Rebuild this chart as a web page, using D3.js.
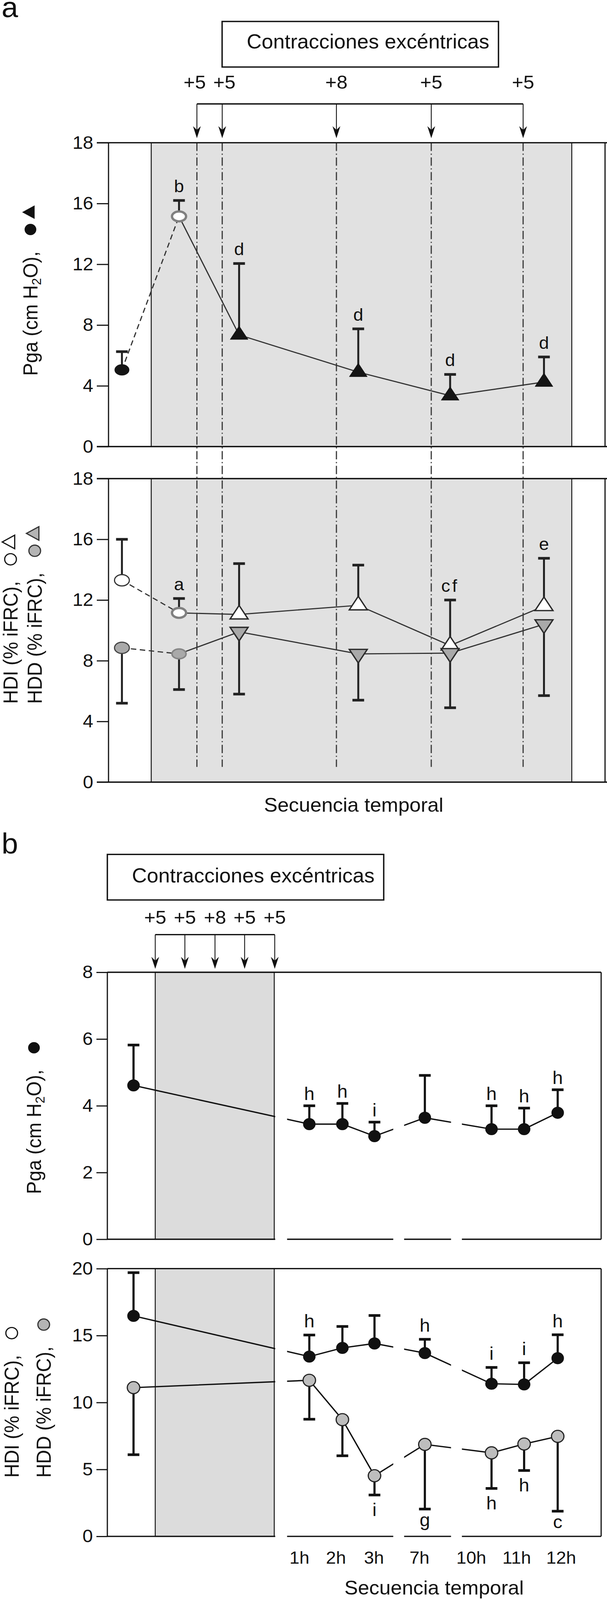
<!DOCTYPE html>
<html lang="es">
<head>
<meta charset="utf-8">
<title>Contracciones excéntricas</title>
<script src="https://cdn.jsdelivr.net/npm/d3@7/dist/d3.min.js"></script>
<style>
html,body{margin:0;padding:0;background:#fff;width:100%;height:100%;overflow:hidden;}
svg{display:block;width:100%;height:100%;}
</style>
</head>
<body>
<svg id="chart" viewBox="0 0 1555 4249" preserveAspectRatio="none"></svg>
<script>
// ================= DATA =================
const contractionBlocks = ["+5", "+5", "+8", "+5", "+5"];
const boxTitle = "Contracciones excéntricas";
const xAxisTitle = "Secuencia temporal";

// ---- Panel a (positions along the temporal sequence, arbitrary units 0-100)
const aSeq = [2.7, 14.2, 26.3, 50.3, 68.8, 87.7];
const aPhase = ["basal", "pre", "post", "post", "post", "post"];
const aBlocksSeq = [17.8, 22.9, 45.9, 65.0, 83.5];
const aExerciseSeq = [8.6, 93.3];
const aTickValues = [0, 4, 8, 12, 16, 20];
const aTickLabels = ["0", "4", "8", "12", "16", "18"];

const aPga = [5.05, 15.15, 7.35, 4.9, 3.35, 4.25];
const aPgaErr = [1.2, 1.05, 4.7, 2.85, 1.4, 1.65];
const aPgaSig = ["", "b", "d", "d", "d", "d"];

const aHDI = [13.3, 11.15, 11.05, 11.65, 9.0, 11.6];
const aHDIErr = [2.7, 0.95, 3.35, 2.65, 3.0, 3.15];
const aHDISig = ["", "a", "", "", "cf", "e"];

const aHDD = [8.85, 8.45, 9.9, 8.45, 8.5, 10.4];
const aHDDErr = [3.65, 2.35, 4.1, 3.05, 3.6, 4.7];

// ---- Panel b
const bSeq = [5.3, 40.9, 47.6, 54.1, 64.3, 77.8, 84.4, 91.2];
const bHourLabels = ["1h", "2h", "3h", "7h", "10h", "11h", "12h"];
const bHourLabelSeq = [38.9, 46.3, 54.0, 63.2, 73.7, 82.9, 91.9];
const bBlocksSeq = [9.7, 15.7, 21.8, 27.8, 33.9];
const bExerciseSeq = [9.7, 33.8];
const bAxisBreaks = [[34.0, 36.4], [57.9, 60.1], [69.6, 71.8]];
const bTopTicks = [0, 2, 4, 6, 8];
const bBotTicks = [0, 5, 10, 15, 20];

const bPga = [4.61, 3.45, 3.45, 3.09, 3.64, 3.30, 3.30, 3.79];
const bPgaErr = [1.21, 0.55, 0.62, 0.42, 1.27, 0.70, 0.63, 0.69];
const bPgaSig = ["", "h", "h", "i", "", "h", "h", "h"];

const bHDI = [16.47, 13.43, 14.08, 14.41, 13.69, 11.40, 11.35, 13.31];
const bHDIErr = [3.23, 1.61, 1.60, 2.09, 1.03, 1.22, 1.62, 1.75];
const bHDISig = ["", "h", "", "", "h", "i", "i", "h"];

const bHDD = [11.11, 11.66, 8.72, 4.53, 6.87, 6.24, 6.90, 7.47];
const bHDDErr = [5.01, 2.91, 2.70, 1.44, 4.83, 2.66, 1.98, 5.59];
const bHDDSig = ["", "", "", "i", "g", "h", "h", "c"];

// ================= DRAWING =================
const FONT = '"Liberation Sans", Arial, Helvetica, sans-serif';
const INK = "#111";
const svg = d3.select("#chart");
svg.append("rect").attr("width", 1555).attr("height", 4249).attr("fill", "#fff");

const xa = d3.scaleLinear().domain([0, 100]).range([278, 1550]);
const yaTop = d3.scaleLinear().domain([0, 20]).range([1186, 379]);
const yaBot = d3.scaleLinear().domain([0, 20]).range([2077, 1271]);
const xb = d3.scaleLinear().domain([0, 100]).range([275, 1540]);
const ybTop = d3.scaleLinear().domain([0, 8]).range([3291, 2582]);
const ybBot = d3.scaleLinear().domain([0, 20]).range([4080, 3369]);

function text(g, x, y, s, size, anchor) {
  return g.append("text").attr("x", x).attr("y", y).attr("font-family", FONT)
    .attr("font-size", size).attr("fill", INK).attr("text-anchor", anchor || "middle").text(s);
}
function hline(g, x1, x2, y, w, c) {
  return g.append("line").attr("x1", x1).attr("x2", x2).attr("y1", y).attr("y2", y)
    .attr("stroke", c || INK).attr("stroke-width", w);
}
function vline(g, x, y1, y2, w, c) {
  return g.append("line").attr("x1", x).attr("x2", x).attr("y1", y1).attr("y2", y2)
    .attr("stroke", c || INK).attr("stroke-width", w);
}
function dodge(xs, minGap) {
  const out = xs.slice();
  for (let i = 1; i < out.length; i++) {
    if (out[i] - out[i - 1] < minGap) {
      const c = (out[i] + out[i - 1]) / 2;
      out[i - 1] = c - minGap / 2; out[i] = c + minGap / 2;
    }
  }
  return out;
}

// ---------- Header (box + blocks + arrows)
function header(cfg) {
  const g = svg.append("g");
  g.append("rect").attr("x", cfg.box[0]).attr("y", cfg.box[1]).attr("width", cfg.box[2]).attr("height", cfg.box[3])
    .attr("fill", "none").attr("stroke", INK).attr("stroke-width", 3.5);
  text(g, cfg.titleX, cfg.titleY, boxTitle, 53, "start");
  const xs = cfg.arrowX;
  const lx = dodge(xs, 76);
  contractionBlocks.forEach((b, i) => text(g, lx[i], cfg.labelY, b, 50));
  hline(g, xs[0], xs[xs.length - 1], cfg.bracketY, 3.5);
  xs.forEach(x => {
    vline(g, x, cfg.bracketY, cfg.tipY - 20, 2.2);
    g.append("path").attr("d", `M${x},${cfg.tipY} L${x - 10},${cfg.tipY - 32} L${x},${cfg.tipY - 22} L${x + 10},${cfg.tipY - 32} Z`)
      .attr("fill", INK);
  });
}

// ---------- y axis
function yAxis(x, scale, values, labels, tickLen) {
  const g = svg.append("g").attr("transform", `translate(${x},0)`)
    .call(d3.axisLeft(scale).tickValues(values).tickFormat((d, i) => labels[i]).tickSize(tickLen).tickPadding(9));
  g.select(".domain").remove();
  g.attr("font-family", FONT).attr("font-size", 48);
  g.selectAll(".tick line").attr("stroke", INK).attr("stroke-width", 3);
  g.selectAll(".tick text").attr("fill", INK);
}

// ---------- rotated y label with symbol glyphs
function drawSym(g, u, v, kind) {
  if (kind.startsWith("circle")) {
    const c = g.append("circle").attr("cx", u).attr("cy", v).attr("r", 15);
    if (kind === "circleBlack") c.attr("fill", INK);
    if (kind === "circleOpen") c.attr("fill", "#fff").attr("stroke", INK).attr("stroke-width", 3);
    if (kind === "circleGray") c.attr("fill", "#b4b4b4").attr("stroke", "#333").attr("stroke-width", 3);
  } else {
    const w = 36, h = 32;
    const p = g.append("path").attr("d", `M${u},${v - h * 2 / 3} L${u + w / 2},${v + h / 3} L${u - w / 2},${v + h / 3} Z`);
    if (kind === "triBlack") p.attr("fill", INK);
    if (kind === "triOpen") p.attr("fill", "#fff").attr("stroke", INK).attr("stroke-width", 3);
    if (kind === "triGray") p.attr("fill", "#b4b4b4").attr("stroke", "#333").attr("stroke-width", 3);
  }
}
function yLabel(bx, by, parts, symbols) {
  const g = svg.append("g").attr("transform", `translate(${bx},${by}) rotate(-90)`);
  const t = g.append("text").attr("font-family", FONT).attr("font-size", 51).attr("fill", INK);
  parts.forEach(p => {
    const ts = t.append("tspan").text(p.t);
    if (p.sub) ts.attr("font-size", 34).attr("dy", 9);
    if (p.up) ts.attr("dy", -9);
  });
  const len = t.node().getComputedTextLength();
  symbols.forEach((s, i) => drawSym(g, len + 58 + i * 46, -18, s));
}

// ================= PANEL a =================
text(svg, 4, 46, "a", 76, "start");
header({ box: [569, 57, 708, 121], titleX: 632, titleY: 129, labelY: 235, bracketY: 276, tipY: 367,
  arrowX: aBlocksSeq.map(xa) });

const gA = svg.append("g");
function frameA(y) {
  const [y0, y1] = y.range();
  gA.append("rect").attr("x", xa(aExerciseSeq[0])).attr("y", y1)
    .attr("width", xa(aExerciseSeq[1]) - xa(aExerciseSeq[0])).attr("height", y0 - y1)
    .attr("fill", "#e1e1e1").attr("stroke", "#1a1a1a").attr("stroke-width", 2.5);
}
frameA(yaTop); frameA(yaBot);
// dash-dot lines marking the contraction blocks
aBlocksSeq.forEach(s => {
  vline(gA, xa(s), yaTop(20), yaBot(1), 3, "#3a3a3a").attr("stroke-dasharray", "22,7,3,7");
});
[yaTop, yaBot].forEach(y => {
  const [y0, y1] = y.range();
  vline(gA, xa(0), y1, y0, 3);
  vline(gA, xa(100), y1, y0, 3);
  hline(gA, xa(0) - 30, 1555, y1, 3.5);
  hline(gA, xa(0) - 30, 1555, y0, 3.5);
});
yAxis(xa(0), yaTop, aTickValues, aTickLabels, 30);
yAxis(xa(0), yaBot, aTickValues, aTickLabels, 30);

// panel a series
const gALines = svg.append("g"), gAErr = svg.append("g"), gAMarks = svg.append("g"), gAText = svg.append("g");
const styleA = {
  Pga: { basal: { shape: "ell", fill: "#151515", stroke: "none", sw: 0 },
         pre: { shape: "ring", fill: "#fff", stroke: "#808080", sw: 6 },
         post: { shape: "up", fill: "#151515", stroke: "#151515", sw: 1 } },
  HDI: { basal: { shape: "ell", fill: "#fff", stroke: "#333", sw: 3 },
         pre: { shape: "ring", fill: "#fff", stroke: "#808080", sw: 6 },
         post: { shape: "up", fill: "#fff", stroke: "#2a2a2a", sw: 3.5 } },
  HDD: { basal: { shape: "ell", fill: "#a9a9a9", stroke: "#444", sw: 3 },
         pre: { shape: "ring", fill: "#a9a9a9", stroke: "#858585", sw: 4 },
         post: { shape: "down", fill: "#a9a9a9", stroke: "#2a2a2a", sw: 3.5 } }
};
function seriesA(y, means, errs, dir, sigs, style) {
  const pts = aSeq.map((s, i) => ({ x: xa(s), y: y(means[i]), e: y(means[i] + dir * errs[i]), phase: aPhase[i], sig: sigs ? sigs[i] : "" }));
  const line = d3.line().x(d => d.x).y(d => d.y);
  gALines.append("path").attr("d", line(pts.slice(0, 2))).attr("fill", "none").attr("stroke", "#333")
    .attr("stroke-width", 3).attr("stroke-dasharray", "14,9");
  gALines.append("path").attr("d", line(pts.slice(1))).attr("fill", "none").attr("stroke", "#333").attr("stroke-width", 3);
  pts.forEach(p => {
    vline(gAErr, p.x, p.y, p.e, 5, "#222");
    hline(gAErr, p.x - 15, p.x + 15, p.e, 7, "#222");
    const st = style[p.phase];
    let m;
    if (st.shape === "ell") m = gAMarks.append("ellipse").attr("cx", p.x).attr("cy", p.y).attr("rx", 19).attr("ry", 15);
    else if (st.shape === "ring") m = gAMarks.append("ellipse").attr("cx", p.x).attr("cy", p.y).attr("rx", 18).attr("ry", 13);
    else {
      const w = 46, h = 36, s = st.shape === "up" ? 1 : -1;
      m = gAMarks.append("path").attr("d",
        `M${p.x},${p.y - s * h * 2 / 3} L${p.x + w / 2},${p.y + s * h / 3} L${p.x - w / 2},${p.y + s * h / 3} Z`);
    }
    m.attr("fill", st.fill).attr("stroke", st.stroke).attr("stroke-width", st.sw).attr("stroke-linejoin", "miter");
    if (p.sig) text(gAText, p.x, p.e - 22, p.sig, 46).attr("letter-spacing", p.sig.length > 1 ? 5 : 0);
  });
}
seriesA(yaTop, aPga, aPgaErr, 1, aPgaSig, styleA.Pga);
seriesA(yaBot, aHDI, aHDIErr, 1, aHDISig, styleA.HDI);
seriesA(yaBot, aHDD, aHDDErr, -1, null, styleA.HDD);

yLabel(96, 998, [{ t: "Pga (cm H" }, { t: "2", sub: true }, { t: "O),", up: true }], ["circleBlack", "triBlack"]);
yLabel(45, 1869, [{ t: "HDI (% iFRC)," }], ["circleOpen", "triOpen"]);
yLabel(107, 1869, [{ t: "HDD (% iFRC)," }], ["circleGray", "triGray"]);
text(svg, 906, 2156, xAxisTitle, 52);

// ================= PANEL b =================
text(svg, 4, 2267, "b", 76, "start");
header({ box: [275, 2269, 708, 121], titleX: 338, titleY: 2343, labelY: 2453, bracketY: 2482, tipY: 2573,
  arrowX: bBlocksSeq.map(xb) });

const allowed = [];
{ let st = 0; bAxisBreaks.forEach(([a, b]) => { allowed.push([st, a]); st = b; }); allowed.push([st, 100]); }
const clip = svg.append("defs").append("clipPath").attr("id", "bBreaks");
allowed.forEach(([a, b]) => clip.append("rect").attr("x", xb(a)).attr("y", 2500).attr("width", xb(b) - xb(a)).attr("height", 1700));

const gB = svg.append("g");
[ybTop, ybBot].forEach(y => {
  const [y0, y1] = y.range();
  gB.append("rect").attr("x", xb(bExerciseSeq[0])).attr("y", y1)
    .attr("width", xb(bExerciseSeq[1]) - xb(bExerciseSeq[0])).attr("height", y0 - y1)
    .attr("fill", "#dcdcdc").attr("stroke", "#1a1a1a").attr("stroke-width", 2.5);
  vline(gB, xb(0), y1, y0, 3);
  vline(gB, xb(100), y1, y0, 3);
  hline(gB, xb(0), xb(100), y1, 3.5);
  allowed.forEach(([a, b]) => hline(gB, xb(a), xb(b), y0, 3.5));
});
yAxis(xb(0), ybTop, bTopTicks, bTopTicks.map(String), 28);
yAxis(xb(0), ybBot, bBotTicks, bBotTicks.map(String), 28);

const gBLines = svg.append("g").attr("clip-path", "url(#bBreaks)");
const gBErr = svg.append("g"), gBMarks = svg.append("g"), gBText = svg.append("g");
function seriesB(y, means, errs, dir, sigs, fill, stroke, sw) {
  const pts = bSeq.map((s, i) => ({ x: xb(s), y: y(means[i]), e: y(means[i] + dir * errs[i]), sig: sigs[i] }));
  gBLines.append("path").attr("d", d3.line().x(d => d.x).y(d => d.y)(pts)).attr("fill", "none")
    .attr("stroke", INK).attr("stroke-width", 3.5);
  pts.forEach(p => {
    vline(gBErr, p.x, p.y, p.e, 5.5, INK);
    hline(gBErr, p.x - 15, p.x + 15, p.e, 7, INK);
    gBMarks.append("circle").attr("cx", p.x).attr("cy", p.y).attr("r", 16)
      .attr("fill", fill).attr("stroke", stroke).attr("stroke-width", sw);
    if (p.sig) {
      if (dir > 0) text(gBText, p.x, p.e - (y === ybTop ? 15 : 20), p.sig, 48);
      else text(gBText, p.x, p.e + 20 + (/[bdfhikl]/.test(p.sig) ? 36 : 25), p.sig, 48);
    }
  });
}
seriesB(ybTop, bPga, bPgaErr, 1, bPgaSig, INK, "none", 0);
seriesB(ybBot, bHDI, bHDIErr, 1, bHDISig, INK, "none", 0);
seriesB(ybBot, bHDD, bHDDErr, -1, bHDDSig, "#bdbdbd", "#222", 3);

bHourLabels.forEach((h, i) => text(svg, xb(bHourLabelSeq[i]), 4153, h, 46));

yLabel(105, 3171, [{ t: "Pga (cm H" }, { t: "2", sub: true }, { t: "O),", up: true }], ["circleBlack"]);
yLabel(48, 3924, [{ t: "HDI (% iFRC)," }], ["circleOpen"]);
yLabel(130, 3924, [{ t: "HDD (% iFRC)," }], ["circleGray"]);
text(svg, 1112, 4235, xAxisTitle, 52);
</script>
</body>
</html>
